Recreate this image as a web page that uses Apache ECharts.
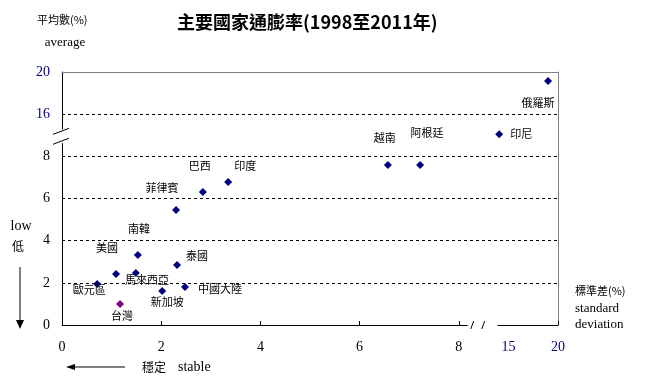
<!DOCTYPE html>
<html><head><meta charset="utf-8">
<script src="https://cdn.jsdelivr.net/npm/echarts@6/dist/echarts.min.js"></script>
<style>html,body{margin:0;padding:0;background:#fff}#c{width:648px;height:384px}</style>
</head><body><div id="c"></div>
<script>
// ---- data ----
const countries = ['俄羅斯','印尼','越南','阿根廷','印度','巴西','菲律賓','南韓','泰國','美國','馬來西亞','歐元區','中國大陸','新加坡','台灣'];
const stdDev   = [19.0, 13.7, 6.57, 7.22, 3.35, 2.84, 2.30, 1.53, 2.32, 1.09, 1.49, 0.71, 2.48, 2.02, 1.17];
const average  = [19.15, 12.2, 7.59, 7.59, 6.78, 6.31, 5.46, 3.32, 2.85, 2.42, 2.47, 1.95, 1.80, 1.61, 1.00];
const highlight = '台灣';
const yTicks = [0, 2, 4, 6, 8, 16, 20];
const xTicks = [0, 2, 4, 6, 8, 15, 20];
const yGridValues = [2, 4, 6, 8, 16];

// ---- broken-axis transforms ----
function ty(v){ return v <= 8 ? v : (v <= 16 ? 8 + (v - 8) / 4 : 10 + (v - 16) / 2); }
function tx(v){ return v <= 8 ? v : (v <= 15 ? 8 + (v - 8) / 7 : 9 + (v - 15) / 5); }

// label placement (layout only)
const labelOffset = {
  '俄羅斯':[-10,22], '印尼':[22,0], '越南':[-3,-27], '阿根廷':[7,-32], '印度':[17,-16],
  '巴西':[-3,-26], '菲律賓':[-14,-22], '南韓':[1,-26], '泰國':[20,-9], '美國':[-9,-26],
  '馬來西亞':[11,7], '歐元區':[-8,6], '中國大陸':[35,2], '新加坡':[5,11], '台灣':[2,12]
};

const NAVY = '#000080';
const serif = '"Liberation Serif","DejaVu Serif",serif';
const cjk = '"Noto Sans CJK TC","Noto Sans CJK SC",sans-serif';

const seriesData = countries.map((name, i) => ({
  name: name,
  value: [tx(stdDev[i]), ty(average[i])],
  itemStyle: { color: name === highlight ? '#800080' : NAVY, opacity: 1 },
  label: { offset: labelOffset[name] }
}));

const chart = echarts.init(document.getElementById('c'), null, {renderer: 'canvas'});
const yVals = yTicks.map(ty), xVals = xTicks.map(tx);
function findLabel(vals, ticks, v){
  for (let i = 0; i < vals.length; i++) if (Math.abs(vals[i] - v) < 1e-6) return String(ticks[i]);
  return '';
}

chart.setOption({
  animation: false,
  backgroundColor: '#fff',
  title: {
    text: '主要國家通膨率(1998至2011年)',
    left: 172, top: 8,
    textStyle: { fontFamily: cjk, fontWeight: 'bold', fontSize: 18, color: '#000' }
  },
  grid: { left: 62, right: 90, top: 72, bottom: 59 },
  xAxis: [{
    type: 'value', min: 0, max: 10, interval: 1,
    axisLine: { show: true, onZero: false, lineStyle: { color: '#000', width: 1 } },
    axisTick: { show: true, inside: true, length: 4, customValues: [2, 4, 6, 8, 10], lineStyle: { color: '#000' } },
    axisLabel: {
      customValues: xVals, margin: 15,
      fontFamily: serif, fontSize: 14,
      formatter: v => findLabel(xVals, xTicks, v),
      color: v => (Number(v) > 8.5 ? NAVY : '#000')
    },
    splitLine: { show: false }
  }, {
    type: 'value', position: 'top', min: 0, max: 10,
    axisLine: { show: true, onZero: false, lineStyle: { color: '#808080', width: 1 } },
    axisTick: { show: false }, axisLabel: { show: false }, splitLine: { show: false }
  }],
  yAxis: [{
    type: 'value', min: 0, max: 12, interval: 2,
    axisLine: { show: true, onZero: false, lineStyle: { color: '#000', width: 1 } },
    axisTick: { show: false },
    axisLabel: {
      customValues: yVals, margin: 12,
      fontFamily: serif, fontSize: 14,
      formatter: v => findLabel(yVals, yTicks, v),
      color: v => (Number(v) > 9 ? NAVY : '#000')
    },
    splitLine: { show: false }
  }, {
    type: 'value', position: 'right', min: 0, max: 12,
    axisLine: { show: true, onZero: false, lineStyle: { color: '#808080', width: 1 } },
    axisTick: { show: false }, axisLabel: { show: false }, splitLine: { show: false }
  }],
  series: [{
    type: 'scatter',
    symbol: 'diamond',
    symbolSize: 8,
    data: seriesData,
    label: {
      show: true, position: 'inside', align: 'center', verticalAlign: 'middle',
      formatter: p => p.name,
      fontFamily: cjk, fontSize: 11, color: '#000'
    },
    markLine: {
      silent: true, symbol: 'none',
      label: { show: false },
      lineStyle: { type: [3, 3], color: '#000', width: 1 },
      data: yGridValues.map(v => ({ yAxis: ty(v) }))
    },
    z: 5
  }]
});

// ---- axis-break decorations and annotations ----
const P = (x, y) => chart.convertToPixel({ gridIndex: 0 }, [x, y]);
const yb1 = P(0, 8.62), yb2 = P(0, 9.28);
const xb1 = P(8.18, 0), xb2 = P(8.78, 0);
const gfx = [];
gfx.push({ type: 'rect', shape: { x: yb1[0] - 3, y: yb2[1], width: 6, height: yb1[1] - yb2[1] }, style: { fill: '#fff' }, z: 100 });
[yb2[1] + 2, yb1[1] - 2].forEach(yy => gfx.push({
  type: 'line', shape: { x1: yb1[0] - 9, y1: yy + 3, x2: yb1[0] + 7, y2: yy - 3 },
  style: { stroke: '#000', lineWidth: 1 }, z: 101
}));
gfx.push({ type: 'rect', shape: { x: xb1[0], y: xb1[1] - 3, width: xb2[0] - xb1[0], height: 6 }, style: { fill: '#fff' }, z: 100 });
[xb1[0] + 5, xb1[0] + 16].forEach(xx => gfx.push({
  type: 'line', shape: { x1: xx - 2, y1: xb1[1] + 4, x2: xx + 1, y2: xb1[1] - 4 },
  style: { stroke: '#000', lineWidth: 1 }, z: 101
}));

function txt(x, y, s, font, size, align){
  return { type: 'text', x: x, y: y, style: { text: s, fontFamily: font, fontSize: size, fill: '#000', textAlign: align || 'left', textVerticalAlign: 'middle' }, z: 50 };
}
gfx.push(txt(37, 20, '平均數(%)', cjk, 11));
gfx.push(txt(65, 43, 'average', serif, 13, 'center'));
gfx.push(txt(21, 226, 'low', serif, 14, 'center'));
gfx.push(txt(18, 246, '低', cjk, 12, 'center'));
gfx.push(txt(575, 291, '標準差(%)', cjk, 11));
gfx.push(txt(575, 309, 'standard', serif, 13));
gfx.push(txt(575, 325, 'deviation', serif, 13));
gfx.push(txt(142, 367, '穩定', cjk, 12));
gfx.push(txt(178, 367, 'stable', serif, 14));
gfx.push({ type: 'line', shape: { x1: 20, y1: 267, x2: 20, y2: 322 }, style: { stroke: '#000', lineWidth: 1 }, z: 50 });
gfx.push({ type: 'polygon', shape: { points: [[16, 320], [24, 320], [20, 329]] }, style: { fill: '#000' }, z: 50 });
gfx.push({ type: 'line', shape: { x1: 72, y1: 367, x2: 125, y2: 367 }, style: { stroke: '#000', lineWidth: 1 }, z: 50 });
gfx.push({ type: 'polygon', shape: { points: [[66, 367], [75, 364], [75, 370]] }, style: { fill: '#000' }, z: 50 });

chart.setOption({ graphic: { elements: gfx } });
</script>
</body></html>
